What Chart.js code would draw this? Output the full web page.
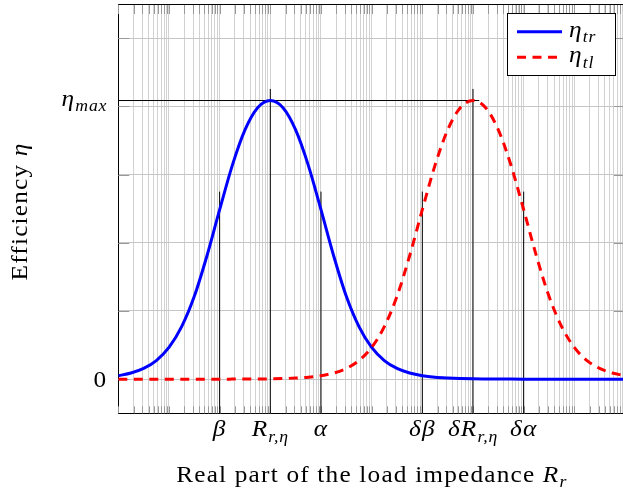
<!DOCTYPE html>
<html>
<head>
<meta charset="utf-8">
<script src="https://cdn.jsdelivr.net/npm/chart.js@4.4.1/dist/chart.umd.min.js"></script>
<style>
html,body{margin:0;padding:0;overflow:hidden;background:#fff;}
#wrap{position:relative;width:626px;height:495px;}
</style>
</head>
<body>
<div id="wrap"><canvas id="c"></canvas></div>
<script>
// ---- data ----
// sample positions: log10 of the load resistance (arbitrary units, 10 decades)
const logR = [0,0.25,0.5,0.75,1,1.25,1.5,1.75,2,2.25,2.5,2.75,3,3.25,3.5,3.75,4,4.25,4.5,4.75,5,
              5.25,5.5,5.75,6,6.25,6.5,6.75,7,7.25,7.5,7.75,8,8.25,8.5,8.75,9,9.25,9.5,9.75,10];
// eta_tr (blue, solid)
const etaTr = [0.0102,0.018,0.0315,0.0546,0.093,0.154,0.243,0.362,0.497,0.627,0.731,0.796,0.817,
               0.796,0.731,0.627,0.497,0.362,0.243,0.154,0.093,0.0546,0.0315,0.018,0.0102,
               0.0057,0.0033,0.0018,0.0010,0.0006,0.0003,0.0002,0.0001,0.0001,0,0,0,0,0,0,0];
// eta_tl (red, dashed)
const etaTl = [0,0,0,0,0,0,0.0001,0.0001,0.0001,0.0002,0.0003,0.0006,0.0010,0.0018,0.0033,0.0057,
               0.0102,0.018,0.0315,0.0546,0.093,0.154,0.243,0.362,0.497,0.627,0.731,0.796,0.817,
               0.796,0.731,0.627,0.497,0.362,0.243,0.154,0.093,0.0546,0.0315,0.018,0.0102];
const seriesLabels = ['$η_{tr}$', '$η_{tl}$'];

const xTickValues = [1e2, 1e3, 1e4, 1e6, 1e7, 1e8];
const xTickLabels = ['$β$', '$R_{r,η}$', '$α$', '$δβ$', '$δR_{r,η}$', '$δα$'];
const yTickValues = [0, 0.817];
const yTickLabels = ['0', '$η_{max}$'];
const yGridValues = [0, 0.2, 0.4, 0.6, 0.8, 1.0];
const xRange = [1, 1e10];
const yRange = [-0.1, 1.1];

const etaMax = 0.817;
const peakLineEnd = 1.33e7;
const peakMarks = [1e3, 1e7];
const peakMarkTop = 0.851;
const sideMarks = [1e2, 1e4, 1e6, 1e8];
const sideMarkTop = 0.55;

const xTitle = 'Real part of the load impedance $R_{r}$';
const yTitle = 'Efficiency $η$';

// ---- helpers ----
const FONT = '"Liberation Serif", "Times New Roman", serif';
const FS = 23;
const TITLE_W = 391;
const BASE_SX = 1.1;

function parseTeX(s){
  const parts=[];
  s.split('$').forEach((seg,i)=>{
    if(!seg) return;
    if(i%2===0){ parts.push({t:seg,k:'rm'}); return; }
    seg.split(/(_\{[^}]*\})/).forEach(p=>{
      if(!p) return;
      const m=p.match(/^_\{([^}]*)\}$/);
      if(m) parts.push({t:m[1],k:'sub'}); else parts.push({t:p,k:'it'});
    });
  });
  return parts;
}
function fontFor(k,size){
  if(k==='rm') return size+'px '+FONT;
  if(k==='it') return 'italic '+size+'px '+FONT;
  return 'italic '+(size*0.7).toFixed(1)+'px '+FONT;
}
let SX = null, LS = 0, HAS_LS = false;
function measureParts(ctx,parts,size,ls){
  let w=0;
  if(HAS_LS) ctx.letterSpacing='0px';
  parts.forEach(p=>{
    ctx.font=fontFor(p.k,size);
    const n=[...p.t].length;
    const l = p.k==='sub' ? ls*0.7 : ls;
    p.ls=l;
    p.w=ctx.measureText(p.t).width + n*l;
    w+=p.w;
  });
  return w;
}
function setup(ctx){
  HAS_LS = ('letterSpacing' in ctx);
  const parts=parseTeX(xTitle);
  const w0=measureParts(ctx,parts,FS,0);
  const n=parts.reduce((s,p)=>s+[...p.t].length*(p.k==='sub'?0.7:1),0);
  if(HAS_LS){
    SX=BASE_SX;
    LS=Math.max(0,(TITLE_W/SX - w0)/n);
  } else {
    SX=TITLE_W/w0; LS=0;
  }
}
function drawTeX(ctx,s,x,y,align,rot){
  const parts=parseTeX(s);
  const w=measureParts(ctx,parts,FS,LS);
  ctx.save();
  ctx.translate(x,y);
  if(rot) ctx.rotate(rot);
  ctx.scale(SX,1);
  let cx = align==='center' ? -w/2 : (align==='right' ? -w : 0);
  ctx.fillStyle='#000'; ctx.textAlign='left'; ctx.textBaseline='alphabetic';
  parts.forEach(p=>{
    ctx.font=fontFor(p.k,FS);
    if(HAS_LS) ctx.letterSpacing=p.ls.toFixed(2)+'px';
    ctx.fillText(p.t,cx,p.k==='sub'?FS*0.25:0);
    cx+=p.w;
  });
  ctx.restore();
}
const px = v => Math.round(v)+0.5;

const pts = ys => logR.map((e,i)=>({x:Math.pow(10,e), y:ys[i]}));
const seg = (x0,y0,x1,y1) => [{x:x0,y:y0},{x:x1,y:y1}];

const refStyle = {borderColor:'#000000', borderWidth:1, pointRadius:0, fill:false, order:2, tension:0};
const datasets = [
  {label:seriesLabels[0], data:pts(etaTr), borderColor:'#0000ff', borderWidth:3, pointRadius:0,
   fill:false, cubicInterpolationMode:'monotone', order:1},
  {label:seriesLabels[1], data:pts(etaTl), borderColor:'#ff0000', borderWidth:3, borderDash:[9,6.5],
   pointRadius:0, fill:false, cubicInterpolationMode:'monotone', order:0},
  Object.assign({label:'ref', data:seg(xRange[0],etaMax,peakLineEnd,etaMax)}, refStyle)
];
peakMarks.forEach(v=>datasets.push(Object.assign({label:'ref', data:seg(v,yRange[0],v,peakMarkTop)}, refStyle)));
sideMarks.forEach(v=>datasets.push(Object.assign({label:'ref', data:seg(v,yRange[0],v,sideMarkTop)}, refStyle)));

const xGridTicks = [];
for(let k=Math.log10(xRange[0]); k<Math.log10(xRange[1]); k++){
  for(let m=1;m<10;m++) xGridTicks.push(m*Math.pow(10,k));
}
xGridTicks.push(xRange[1]);

const decor = {
  id:'decor',
  beforeDatasetsDraw(chart){
    const ctx=chart.ctx, a=chart.chartArea, xs=chart.scales.x, ys=chart.scales.y;
    ctx.save();
    ctx.strokeStyle='#999999'; ctx.lineWidth=1;
    ctx.beginPath();
    xGridTicks.forEach(v=>{
      const p=px(xs.getPixelForValue(v));
      ctx.moveTo(p,a.bottom); ctx.lineTo(p,a.bottom-7);
      ctx.moveTo(p,a.top); ctx.lineTo(p,a.top+10);
    });
    yGridValues.forEach(v=>{
      const p=px(ys.getPixelForValue(v));
      ctx.moveTo(a.left,p); ctx.lineTo(a.left+11,p);
      ctx.moveTo(a.right,p); ctx.lineTo(a.right-11,p);
    });
    ctx.stroke();
    ctx.restore();
  },
  afterDraw(chart){
    const ctx=chart.ctx, a=chart.chartArea, xs=chart.scales.x, ys=chart.scales.y;
    if(SX===null) setup(ctx);
    ctx.save();
    // frame
    ctx.strokeStyle='#000'; ctx.lineWidth=1;
    ctx.beginPath();
    ctx.moveTo(a.left, px(a.top)); ctx.lineTo(a.right, px(a.top));
    ctx.moveTo(px(a.right)-1, a.top); ctx.lineTo(px(a.right)-1, a.bottom);
    ctx.stroke();
    // x tick labels
    xTickValues.forEach((v,i)=>drawTeX(ctx, xTickLabels[i], xs.getPixelForValue(v), a.bottom+22.7, 'center'));
    // y tick labels
    yTickValues.forEach((v,i)=>{
      const off = i===0 ? 7.5 : 5;
      drawTeX(ctx, yTickLabels[i], a.left-11, ys.getPixelForValue(v)+off, 'right');
    });
    // axis titles
    drawTeX(ctx, xTitle, (a.left+a.right)/2, 481.5, 'center');
    drawTeX(ctx, yTitle, 26.5, 211.5, 'center', -Math.PI/2);
    // legend
    const bw=108, bh=62, bx=a.right-10-bw, by=a.top+8.7;
    ctx.fillStyle='#fff';
    ctx.fillRect(px(bx),px(by),Math.round(bw),Math.round(bh));
    ctx.strokeStyle='#000'; ctx.lineWidth=1;
    ctx.strokeRect(px(bx),px(by),Math.round(bw),Math.round(bh));
    [0,1].forEach(i=>{
      const ds=chart.data.datasets[i];
      const ly=by+19+i*25.6;
      ctx.save();
      ctx.strokeStyle=ds.borderColor; ctx.lineWidth=ds.borderWidth;
      ctx.setLineDash(ds.borderDash||[]);
      ctx.beginPath(); ctx.moveTo(bx+10,ly); ctx.lineTo(bx+55,ly); ctx.stroke();
      ctx.restore();
      drawTeX(ctx, ds.label, bx+62, ly+5, 'left');
    });
    ctx.restore();
  }
};

new Chart(document.getElementById('c'), {
  type:'line',
  data:{datasets},
  options:{
    responsive:true, maintainAspectRatio:false, animation:false, devicePixelRatio:1,
    layout:{padding:{top:4,right:1,left:0,bottom:0}},
    plugins:{legend:{display:false}, tooltip:{enabled:false}},
    scales:{
      x:{type:'logarithmic', min:xRange[0], max:xRange[1],
         afterBuildTicks:s=>{s.ticks=xGridTicks.map(v=>({value:v}));},
         afterFit:s=>{s.height=81.7;},
         ticks:{display:false},
         grid:{color:'#d2d2d2', lineWidth:1, drawTicks:false},
         border:{display:true, color:'#000', width:1}},
      y:{type:'linear', min:yRange[0], max:yRange[1],
         afterBuildTicks:s=>{s.ticks=yGridValues.map(v=>({value:v}));},
         afterFit:s=>{s.width=118.3;},
         ticks:{display:false},
         grid:{color:'#c6c6c6', lineWidth:1, drawTicks:false},
         border:{display:true, color:'#000', width:1}}
    }
  },
  plugins:[decor]
});
</script>
</body>
</html>
